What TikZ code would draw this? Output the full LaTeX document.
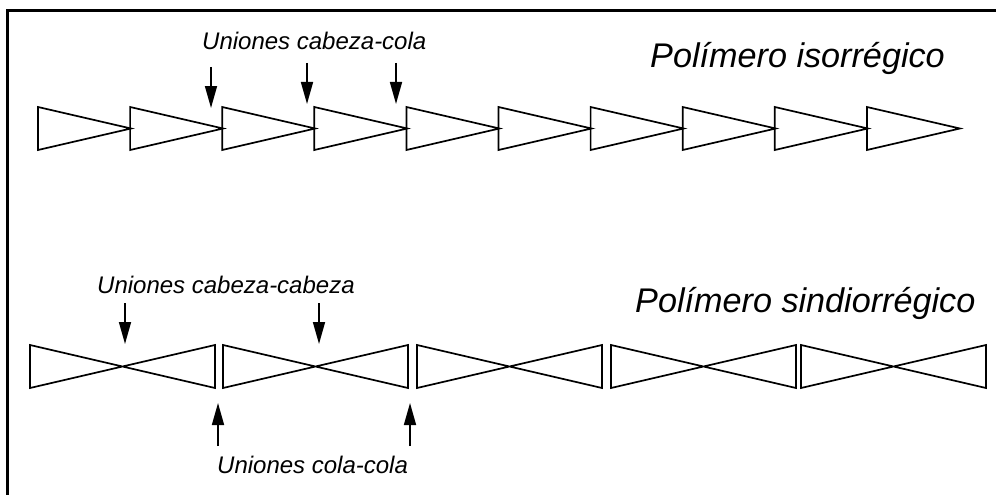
\documentclass[tikz,border=0pt]{standalone}
\usepackage{fontspec}
\setmainfont{Liberation Sans}
\usetikzlibrary{arrows.meta}
\begin{document}
\begin{tikzpicture}[x=1pt,y=-1pt,
  frameline/.style={line width=2.8pt},
  unit/.style={line width=1.7pt,line join=miter},
  pointer/.style={line width=1.6pt,-{Triangle[length=22pt,width=12pt]}},
  small/.style={font=\itshape\fontsize{24}{26}\selectfont,inner sep=0pt,anchor=base west},
  title/.style={font=\itshape\fontsize{34.2}{38}\selectfont,inner sep=0pt,anchor=base west}]
\useasboundingbox (0,0) rectangle (996,495);
% open frame: top and left edges
\draw[frameline] (996,10.5) -- (7.7,10.5) -- (7.7,495);

% isoregular chain: head-to-tail units
\foreach \i in {0,...,9} {
  \pgfmathsetmacro{\L}{38+92.1*\i}
  \draw[unit] (\L,107) -- (\L+93,128.5) -- (\L,150) -- cycle;
}
\node[title] (iso) at (650,67) {Polímero isorrégico};
\node[small] (hc) at (202,50) {Uniones cabeza-cola};
\coordinate (hcA1) at (211,67);  \coordinate (hcB1) at (211,108);
\coordinate (hcA2) at (307,63);  \coordinate (hcB2) at (307,104);
\coordinate (hcA3) at (396,63);  \coordinate (hcB3) at (396,104);
\foreach \k in {1,2,3} \draw[pointer] (hcA\k) -- (hcB\k);

% syndioregular chain: head-to-head / tail-to-tail pairs
\foreach \L in {30,223,417,611,801} {
  \draw[unit] (\L,345) -- (\L+185,388) -- (\L+185,345) -- (\L,388) -- cycle;
}
\node[title] (syn) at (635,312) {Polímero sindiorrégico};
\node[small] (hh) at (97,293) {Uniones cabeza-cabeza};
\node[small] (tt) at (217,473) {Uniones cola-cola};
\coordinate (hhA1) at (125,303); \coordinate (hhB1) at (125,344);
\coordinate (hhA2) at (319,303); \coordinate (hhB2) at (319,344);
\coordinate (ttA1) at (218,446); \coordinate (ttB1) at (218,403);
\coordinate (ttA2) at (410,446); \coordinate (ttB2) at (410,403);
\foreach \k in {1,2} {
  \draw[pointer] (hhA\k) -- (hhB\k);
  \draw[pointer] (ttA\k) -- (ttB\k);
}
\end{tikzpicture}
\end{document}
